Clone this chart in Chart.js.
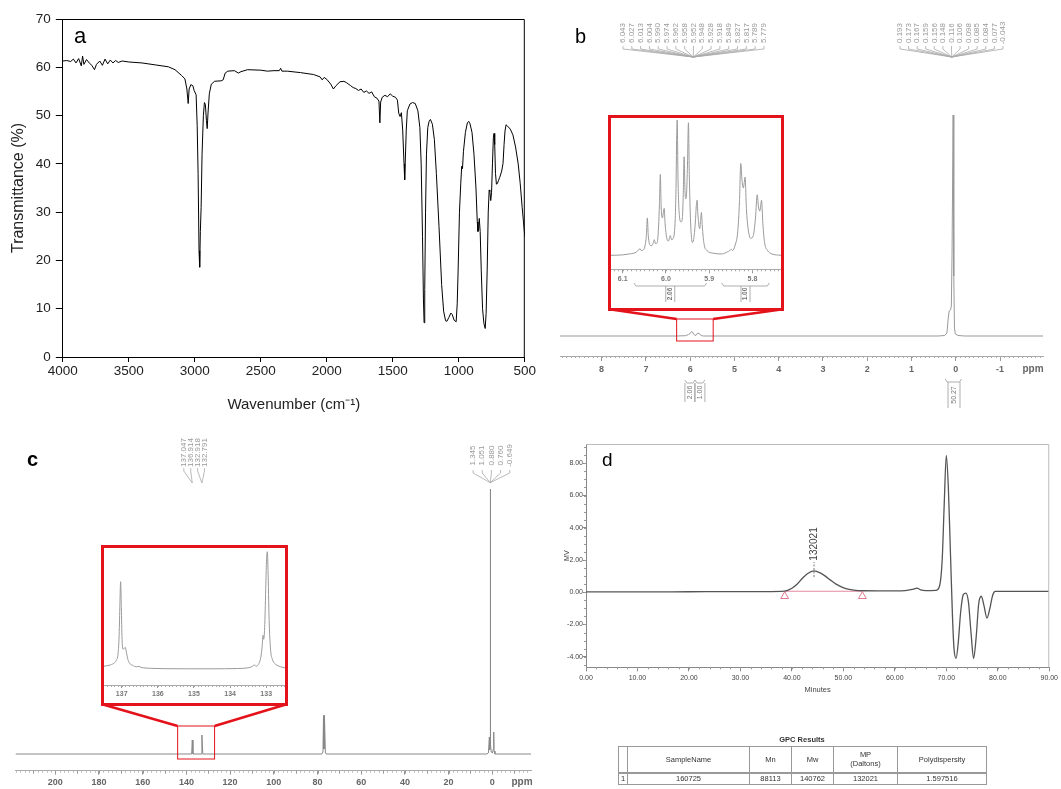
<!DOCTYPE html>
<html>
<head>
<meta charset="utf-8">
<script src="https://cdn.jsdelivr.net/npm/chart.js@4"></script>
<style>
body { margin: 0; background: #fff; width: 1061px; height: 789px; position: relative; overflow: hidden; font-family: "Liberation Sans", Arial, sans-serif; }
canvas { position: absolute; }
.lbl { position: absolute; line-height: 1; color: #000; }
.mid { position: absolute; line-height: 1; transform: translate(-50%, -50%); white-space: nowrap; }
.inset { position: absolute; border: 3px solid #e3121b; background: #fff; box-sizing: border-box; }
table.gpc { position: absolute; border-collapse: collapse; font-size: 7.5px; color: #333; table-layout: fixed; }
table.gpc td { border: 1px solid #999; text-align: center; padding: 0; }
</style>
</head>
<body>
<canvas id="irChart" width="540" height="420" style="left:0;top:0"></canvas>
<canvas id="hChart" width="501" height="420" style="left:560px;top:0"></canvas>
<canvas id="cChart" width="545" height="359" style="left:0;top:430px"></canvas>
<canvas id="gpcChart" width="501" height="359" style="left:560px;top:430px"></canvas>

<div class="inset" style="left:608px;top:115px;width:176px;height:196px"><canvas id="hInset" width="170" height="190" style="left:0;top:0"></canvas></div>
<div class="inset" style="left:101px;top:545px;width:187px;height:161px"><canvas id="cInset" width="181" height="155" style="left:0;top:0"></canvas></div>

<div class="lbl" style="left:74px;top:25px;font-size:22px">a</div>
<div class="lbl" style="left:575px;top:26px;font-size:20px">b</div>
<div class="lbl" style="left:27px;top:449px;font-size:20px;font-weight:bold">c</div>
<div class="lbl" style="left:602px;top:450px;font-size:19px">d</div>
<div class="mid" style="left:1033px;top:369px;font-size:10px;font-weight:bold;color:#666">ppm</div>
<div class="mid" style="left:522px;top:782px;font-size:10px;font-weight:bold;color:#666">ppm</div>

<div class="mid" style="left:802px;top:740px;font-size:7.5px;font-weight:bold;color:#333">GPC Results</div>
<table class="gpc" style="left:618px;top:746px;width:368px">
  <colgroup><col style="width:9px"><col style="width:122px"><col style="width:42px"><col style="width:42px"><col style="width:64px"><col style="width:89px"></colgroup>
  <tr style="height:26px;border-bottom:2px solid #999"><td></td><td>SampleName</td><td>Mn</td><td>Mw</td><td>MP<br>(Daltons)</td><td>Polydispersity</td></tr>
  <tr style="height:12px"><td style="text-align:left;padding-left:2px">1</td><td>160725</td><td>88113</td><td>140762</td><td>132021</td><td>1.597516</td></tr>
</table>

<script>
// FTIR spectrum (panel a)
const irWavenumber = [4000, 3970, 3940, 3920, 3900, 3880, 3860, 3850, 3840, 3820, 3800, 3780, 3760, 3745, 3720, 3700, 3680, 3660, 3640, 3620, 3600, 3580, 3550, 3500, 3400, 3300, 3200, 3150, 3100, 3075, 3060, 3050, 3043, 3030, 3015, 3005, 2990, 2982, 2975, 2968, 2963, 2958, 2952, 2945, 2935, 2927, 2920, 2912, 2906, 2900, 2890, 2875, 2850, 2800, 2785, 2770, 2750, 2700, 2670, 2650, 2600, 2500, 2450, 2400, 2360, 2350, 2340, 2300, 2200, 2100, 2050, 2035, 2020, 2000, 1970, 1950, 1930, 1900, 1870, 1850, 1820, 1800, 1780, 1760, 1740, 1720, 1700, 1680, 1660, 1640, 1620, 1605, 1598, 1592, 1580, 1560, 1540, 1520, 1500, 1480, 1465, 1455, 1445, 1435, 1425, 1415, 1410, 1405, 1398, 1390, 1370, 1350, 1330, 1310, 1295, 1285, 1275, 1268, 1263, 1258, 1252, 1245, 1235, 1225, 1215, 1200, 1185, 1170, 1150, 1130, 1115, 1100, 1090, 1075, 1060, 1050, 1035, 1020, 1012, 1005, 995, 985, 978, 972, 965, 950, 935, 925, 915, 900, 885, 870, 860, 855, 850, 845, 838, 830, 820, 810, 800, 793, 785, 777, 770, 765, 758, 752, 745, 738, 733, 728, 722, 715, 708, 700, 690, 675, 665, 657, 650, 642, 630, 610, 590, 570, 550, 535, 520, 510, 500];
const irTransmittance = [61.3, 61.4, 61.2, 61.7, 60.9, 61.8, 60.3, 62.3, 60.6, 61.6, 60.9, 60.4, 59.5, 60.6, 61.3, 60.4, 61.7, 60.7, 61.5, 60.9, 61.4, 61.0, 61.3, 61.1, 60.9, 60.5, 60.1, 59.5, 58.3, 57.6, 55.5, 52.5, 55.5, 56.4, 56.2, 55.2, 54.3, 48, 38, 22, 18.6, 26, 31, 42, 50, 52.7, 52.3, 49, 47.3, 50.5, 54.5, 56.5, 57.1, 57.2, 57.4, 58.8, 59.2, 59.3, 58.8, 59.1, 59.5, 59.4, 59.2, 59.3, 59.3, 59.8, 59.2, 59.2, 58.9, 58.5, 58.0, 57.4, 57.9, 57.5, 56.5, 55.5, 56.2, 57.0, 57.1, 56.8, 56.2, 55.8, 55.6, 55.2, 55.5, 54.8, 55.1, 54.6, 54.9, 53.9, 53.6, 53.0, 48.5, 52.8, 53.8, 54.2, 53.9, 54.5, 54.0, 53.8, 53.2, 50.5, 49.8, 50.6, 47, 40, 36.7, 41, 47, 51, 52.4, 52.7, 52.5, 51.0, 47.5, 40, 25, 12, 7.1, 14, 30, 42, 47.5, 48.8, 49.2, 48.2, 45, 38, 27, 15, 9.5, 7.5, 7.4, 8.2, 9.1, 8.8, 7.6, 7.3, 11, 18, 30, 36, 39.5, 39, 42.5, 46.5, 48.5, 48.8, 48.3, 46.5, 42, 35, 28, 26, 26.3, 28.7, 26, 18, 10, 7, 5.9, 9, 18, 30, 34.6, 34.3, 32.4, 34, 40, 45.5, 46.3, 44, 38, 35.8, 35.9, 36.5, 37.2, 38.5, 40.1, 44, 46.8, 48.1, 47.8, 47.2, 46, 43.5, 40, 36, 31, 28, 24.9];

// 1H NMR (panel b), intensity in screen-height units above the baseline
const hShift = [8.94, 6.30, 6.10, 6.04, 6.00, 5.97, 5.95, 5.92, 5.89, 5.86, 5.83, 5.80, 5.78, 5.75, 5.70, 0.40, 0.25, 0.20, 0.17, 0.15, 0.12, 0.10, 0.085, 0.06, 0.045, 0.03, 0.01, -0.05, -0.20, -1.97];
const hIntensity = [0, 0, 0.3, 1.5, 2.5, 4.5, 4, 2, 0.5, 1, 3, 2.5, 2.5, 0.5, 0, 0, 0.5, 3, 18, 25, 26, 30, 80, 221, 60, 8, 2, 0.5, 0, 0];
const hPeaksVinyl = ['6.043', '6.027', '6.013', '6.004', '5.990', '5.974', '5.962', '5.958', '5.952', '5.948', '5.928', '5.918', '5.849', '5.827', '5.817', '5.789', '5.779'];
const hPeaksMethyl = ['0.193', '0.173', '0.167', '0.159', '0.156', '0.148', '0.116', '0.106', '0.098', '0.085', '0.084', '0.077', '-0.043'];
const hIntegrals = ['2.06', '1.00', '50.27'];

// 1H NMR inset, 5.73-6.13 ppm (relative intensity, tallest = 100)
const hInsetShift = [6.127, 6.10, 6.085, 6.075, 6.068, 6.063, 6.060, 6.057, 6.052, 6.048,
    6.045, 6.043, 6.041, 6.037, 6.033, 6.029, 6.027, 6.024, 6.020, 6.017,
    6.015, 6.013, 6.011, 6.008, 6.006, 6.004, 6.002, 5.998, 5.994, 5.992,
    5.990, 5.987, 5.983, 5.979, 5.977, 5.975, 5.974, 5.972, 5.969, 5.965,
    5.962, 5.960, 5.958, 5.956, 5.954, 5.952, 5.950, 5.948, 5.946, 5.943,
    5.939, 5.936, 5.932, 5.930, 5.928, 5.926, 5.922, 5.920, 5.918, 5.916,
    5.912, 5.905, 5.89, 5.87, 5.858, 5.852, 5.849, 5.846, 5.840, 5.834,
    5.830, 5.827, 5.824, 5.821, 5.819, 5.817, 5.814, 5.810, 5.804, 5.798,
    5.793, 5.789, 5.786, 5.783, 5.781, 5.779, 5.776, 5.772, 5.765, 5.755, 5.734];
const hInsetIntensity = [0.5, 0.8, 1.5, 2, 3, 4.5, 5.5, 4, 4.5, 8,
    16, 28, 16, 8, 7.5, 10, 12, 9, 10, 22,
    38, 60, 36, 28, 32, 35, 24, 13, 11, 13,
    15, 12, 13, 24, 45, 90, 100, 55, 30, 25,
    28, 45, 73, 48, 42, 48, 70, 98, 60, 25,
    10, 12, 25, 36, 41, 30, 20, 26, 32, 22,
    9, 4, 2, 1.5, 3, 4, 5, 4, 8, 18,
    40, 68, 55, 50, 54, 58, 35, 20, 13, 15,
    28, 45, 36, 33, 37, 41, 24, 10, 4, 1.5, 0.5];

// 13C NMR (panel c)
const cShift = [218.2, 145, 137.6, 137.3, 137.0, 133.3, 132.9, 132.5, 78, 77.5, 77.25, 77.1, 77.0, 76.85, 76.75, 76.4, 76, 2.5, 1.8, 1.35, 1.2, 1.05, 0.95, 0.85, 0.76, 0.5, 0, -0.5, -0.65, -0.8, -1.2, -17.7];
const cIntensity = [0, 0, 0, 14, 0, 0, 19, 0, 0, 2, 38, 5, 39, 5, 37, 2, 0, 0, 1, 17, 4, 8, 265, 20, 10, 2, 1, 5, 22, 3, 0, 0];
const cPeaksVinyl = ['137.047', '136.914', '132.918', '132.791'];
const cPeaksMethyl = ['1.345', '1.051', '0.880', '0.760', '-0.649'];

// 13C inset, 132.5-137.5 ppm
const cInsetShift = [137.5, 137.35, 137.22, 137.15, 137.1, 137.07, 137.05, 137.03, 137.01, 136.99,
    136.96, 136.93, 136.9, 136.87, 136.83, 136.78, 136.7, 136.6, 136.52, 136.47,
    136.4, 136.2, 135.8, 135.2, 134.5, 133.8, 133.5, 133.38, 133.33, 133.28,
    133.2, 133.15, 133.11, 133.09, 133.07, 133.04, 133.01, 132.99, 132.97, 132.95,
    132.92, 132.88, 132.83, 132.77, 132.7, 132.6, 132.48];
const cInsetIntensity = [3, 4, 6, 9, 16, 35, 65, 87.6, 62, 30,
    20, 21, 22, 17, 10, 6, 4, 2.5, 3, 2,
    1.5, 1, 0.6, 0.5, 0.5, 0.8, 1.5, 3, 4.5, 3,
    6, 12, 24, 34, 30, 45, 85, 110, 117.6, 100,
    50, 20, 10, 6, 4, 2.5, 1.5];

// GPC trace (panel d)
const gpcMinutes = [0, 10, 20, 30, 36, 38, 39, 40, 41, 42, 43, 44.3, 45.5, 46.5, 47.5, 48.5, 49.5, 50.5, 52, 54, 58, 62, 63.5, 64.3, 65, 66, 68, 68.7, 69.2, 69.6, 70, 70.4, 70.8, 71.2, 71.5, 71.9, 72.3, 72.8, 73.3, 73.8, 74.3, 74.8, 75.3, 75.8, 76.3, 76.8, 77.3, 77.9, 78.4, 79, 79.5, 80, 90];
const gpcSignal = [0.02, 0.02, 0.03, 0.04, 0.04, 0.05, 0.1, 0.25, 0.5, 0.85, 1.15, 1.32, 1.2, 1.0, 0.75, 0.52, 0.35, 0.22, 0.13, 0.09, 0.08, 0.1, 0.18, 0.25, 0.15, 0.1, 0.12, 0.4, 2, 5.5, 8.5, 6.5, 2.5, -1.5, -3.5, -4.1, -3.2, -1.2, -0.15, -0.05, -0.6, -2.5, -4.1, -2.8, -0.7, -0.25, -0.8, -1.6, -1.1, -0.2, 0.05, 0.05, 0.05];
const gpcBaseMinutes = [38.6, 53.7];
const gpcBaseSignal = [0.06, 0.06];
const gpcMarkerSignal = [-0.25, -0.25];
const gpcPeakLabel = '132021';
const gpcPeakMinute = 44.3;

Chart.defaults.font.family = '"Liberation Sans", Arial, sans-serif';
Chart.defaults.animation = false;
Chart.defaults.responsive = false;
Chart.defaults.plugins.legend.display = false;
Chart.defaults.plugins.tooltip.enabled = false;
Chart.defaults.elements.point.radius = 0;
Chart.defaults.elements.line.tension = 0;

function xy(xs, ys) {
    return xs.map((x, i) => ({ x: x, y: ys[i] }));
}
function fixW(w) { return s => { s.width = w; }; }
function fixH(h) { return s => { s.height = h; }; }

function vtext(ctx, s, x, y) {
    ctx.save();
    ctx.translate(x, y);
    ctx.rotate(-Math.PI / 2);
    ctx.textAlign = 'center';
    ctx.textBaseline = 'middle';
    ctx.fillText(s, 0, 0);
    ctx.restore();
}

// top and right edges of a boxed plot
const frame = {
    id: 'frame',
    afterDraw(chart, args, opts) {
        const { ctx, chartArea: a } = chart;
        ctx.save();
        ctx.strokeStyle = opts.color || '#000';
        ctx.lineWidth = 1;
        ctx.beginPath();
        ctx.moveTo(a.left, a.top + 0.5);
        ctx.lineTo(a.right - 0.5, a.top + 0.5);
        ctx.lineTo(a.right - 0.5, a.bottom);
        ctx.stroke();
        ctx.restore();
    }
};

// small ticks between the labelled ones
const minorTicks = {
    id: 'minorTicks',
    afterDraw(chart, args, opts) {
        const ctx = chart.ctx;
        (opts.axes || []).forEach(a => {
            const s = chart.scales[a.id];
            const lo = Math.min(s.min, s.max), hi = Math.max(s.min, s.max);
            ctx.save();
            ctx.strokeStyle = a.color;
            ctx.lineWidth = 1;
            ctx.beginPath();
            for (let i = Math.ceil(lo / a.step - 1e-9); i * a.step <= hi + 1e-9; i++) {
                const p = Math.round(s.getPixelForValue(i * a.step)) + 0.5;
                if (s.isHorizontal()) {
                    ctx.moveTo(p, s.top);
                    ctx.lineTo(p, s.top + a.len);
                } else {
                    ctx.moveTo(s.right, p);
                    ctx.lineTo(s.right - a.len, p);
                }
            }
            ctx.stroke();
            ctx.restore();
        });
    }
};

// vertical peak labels with leader lines converging on one spot
function labelFan(ctx, labels, x0, step, textMid, textEnd, toX, toY) {
    labels.forEach((s, i) => {
        const cx = x0 + i * step;
        vtext(ctx, s, cx, textMid);
        ctx.beginPath();
        ctx.moveTo(cx, textEnd);
        ctx.lineTo(cx, textEnd + 3);
        ctx.lineTo(toX, toY);
        ctx.stroke();
    });
}

// integration brace with its value written vertically below
function integral(ctx, xa, xb, yTop, yBottom, label, lx, half) {
    ctx.beginPath();
    ctx.moveTo(xa, yTop);
    ctx.lineTo(xa + 2, yTop + 3);
    ctx.lineTo(xb - 2, yTop + 3);
    ctx.lineTo(xb, yTop);
    ctx.moveTo(lx - half, yTop + 3);
    ctx.lineTo(lx - half, yBottom);
    ctx.moveTo(lx + half, yTop + 3);
    ctx.lineTo(lx + half, yBottom);
    ctx.stroke();
    vtext(ctx, label, lx, (yTop + 3 + yBottom) / 2);
}

// red zoom rectangle on the spectrum and the lines up to the inset
function zoomMark(ctx, x, y, from, to, top, bottom, insetL, insetR, insetB) {
    const l = x.getPixelForValue(from), r = x.getPixelForValue(to);
    const t = y.getPixelForValue(top), b = y.getPixelForValue(bottom);
    ctx.save();
    ctx.strokeStyle = '#e3121b';
    ctx.lineWidth = 1;
    ctx.strokeRect(l, t, r - l, b - t);
    ctx.lineWidth = 2.5;
    ctx.beginPath();
    ctx.moveTo(insetL, insetB);
    ctx.lineTo(l, t);
    ctx.moveTo(insetR, insetB);
    ctx.lineTo(r, t);
    ctx.stroke();
    ctx.restore();
}

const hNotes = {
    id: 'hNotes',
    afterDraw(chart) {
        const { ctx, scales: { x, y } } = chart;
        ctx.save();
        ctx.font = '8px "Liberation Sans", Arial, sans-serif';
        ctx.fillStyle = '#999';
        ctx.strokeStyle = '#aaa';
        ctx.lineWidth = 0.8;
        labelFan(ctx, hPeaksVinyl, 63, 8.81, 33, 46, x.getPixelForValue(5.93), 57);
        labelFan(ctx, hPeaksMethyl, 340, 8.58, 33, 46, x.getPixelForValue(0.09), 57);
        ctx.font = '7px "Liberation Sans", Arial, sans-serif';
        ctx.fillStyle = '#777';
        ctx.strokeStyle = '#999';
        integral(ctx, x.getPixelForValue(6.12), x.getPixelForValue(5.89), 380, 402, hIntegrals[0], x.getPixelForValue(6.005), 5);
        integral(ctx, x.getPixelForValue(5.89), x.getPixelForValue(5.67), 380, 402, hIntegrals[1], x.getPixelForValue(5.78), 5);
        integral(ctx, x.getPixelForValue(0.24), x.getPixelForValue(-0.13), 379, 408, hIntegrals[2], x.getPixelForValue(0.04), 6);
        ctx.restore();
        zoomMark(ctx, x, y, 6.305, 5.48, 17, -5, 49.3, 222.7, 309.3);
    }
};

const hInsetNotes = {
    id: 'hInsetNotes',
    afterDraw(chart) {
        const { ctx, scales: { x } } = chart;
        ctx.save();
        ctx.font = 'bold 6.5px "Liberation Sans", Arial, sans-serif';
        ctx.fillStyle = '#777';
        ctx.strokeStyle = '#999';
        ctx.lineWidth = 0.8;
        integral(ctx, x.getPixelForValue(6.074), x.getPixelForValue(5.906), 165, 184, hIntegrals[0], x.getPixelForValue(5.99), 4.5);
        integral(ctx, x.getPixelForValue(5.871), x.getPixelForValue(5.761), 165, 184, hIntegrals[1], x.getPixelForValue(5.816), 4.5);
        ctx.restore();
    }
};

const cNotes = {
    id: 'cNotes',
    afterDraw(chart) {
        const { ctx, scales: { x, y } } = chart;
        ctx.save();
        ctx.font = '8px "Liberation Sans", Arial, sans-serif';
        ctx.fillStyle = '#999';
        ctx.strokeStyle = '#aaa';
        ctx.lineWidth = 0.8;
        labelFan(ctx, cPeaksVinyl.slice(0, 2), 183.8, 6.9, 22.5, 38, x.getPixelForValue(137.3), 53);
        labelFan(ctx, cPeaksVinyl.slice(2), 197.6, 6.9, 22.5, 38, x.getPixelForValue(132.9), 53);
        labelFan(ctx, cPeaksMethyl, 473.1, 9.15, 25.5, 40, x.getPixelForValue(0.95), 52.7);
        ctx.restore();
        zoomMark(ctx, x, y, 144, 127.1, 28, -5, 102.1, 286.6, 274.3);
    }
};

const gpcNotes = {
    id: 'gpcNotes',
    afterDraw(chart) {
        const { ctx, scales: { x, y } } = chart;
        const px = x.getPixelForValue(gpcPeakMinute);
        const top = y.getPixelForValue(1.32);
        ctx.save();
        ctx.strokeStyle = '#777';
        ctx.lineWidth = 1;
        ctx.setLineDash([2, 1.5]);
        ctx.beginPath();
        ctx.moveTo(px, top + 6);
        ctx.lineTo(px, top - 9);
        ctx.stroke();
        ctx.setLineDash([]);
        ctx.font = '10px "Liberation Sans", Arial, sans-serif';
        ctx.fillStyle = '#444';
        vtext(ctx, gpcPeakLabel, px, top - 27);
        ctx.restore();
    }
};

// panel a: FTIR
new Chart(document.getElementById('irChart'), {
    type: 'line',
    data: { datasets: [{ data: xy(irWavenumber, irTransmittance), borderColor: '#000', borderWidth: 1 }] },
    options: {
        layout: { padding: { top: 19, right: 15.2, bottom: 0, left: 0 } },
        scales: {
            x: {
                type: 'linear', reverse: true, min: 500, max: 4000,
                ticks: { stepSize: 500, callback: v => String(v), color: '#222', font: { size: 13.5 }, padding: 1, maxRotation: 0 },
                grid: { drawOnChartArea: false, tickLength: 5, color: '#000' },
                border: { color: '#000' },
                title: { display: true, text: 'Wavenumber (cm⁻¹)', color: '#222', font: { size: 15 }, padding: { top: 0, bottom: 6 } },
                afterFit: fixH(63)
            },
            y: {
                min: 0, max: 70,
                ticks: { stepSize: 10, color: '#222', font: { size: 13.5 }, padding: 5 },
                grid: { drawOnChartArea: false, tickLength: 7, color: '#000' },
                border: { color: '#000' },
                title: { display: true, text: 'Transmittance (%)', color: '#222', font: { size: 16 }, padding: { top: 9, bottom: 0 } },
                afterFit: fixW(62.8)
            }
        },
        plugins: { frame: { color: '#000' } }
    },
    plugins: [frame]
});

// panel b: 1H NMR
new Chart(document.getElementById('hChart'), {
    type: 'line',
    data: { datasets: [{ data: xy(hShift, hIntensity), borderColor: '#999', borderWidth: 1 }] },
    options: {
        layout: { padding: { top: 100, right: 18, bottom: 44, left: 0 } },
        scales: {
            x: {
                type: 'linear', reverse: true, min: -1.97, max: 8.94,
                ticks: { stepSize: 1, includeBounds: false, autoSkip: false, callback: v => String(v), color: '#666', font: { size: 9, weight: 'bold' }, padding: 3, maxRotation: 0 },
                grid: { drawOnChartArea: false, tickLength: 5, color: '#999' },
                border: { color: '#aaa' },
                afterFit: fixH(20)
            },
            y: { display: false, min: -20, max: 236 }
        },
        plugins: { minorTicks: { axes: [{ id: 'x', step: 0.1, len: 2, color: '#aaa' }] } }
    },
    plugins: [minorTicks, hNotes]
});

// panel b inset
new Chart(document.getElementById('hInset'), {
    type: 'line',
    data: { datasets: [{ data: xy(hInsetShift, hInsetIntensity), borderColor: '#9a9a9a', borderWidth: 1, cubicInterpolationMode: 'monotone' }] },
    options: {
        layout: { padding: 0 },
        scales: {
            x: {
                type: 'linear', reverse: true, min: 5.734, max: 6.127,
                ticks: { stepSize: 0.1, includeBounds: false, autoSkip: false, callback: v => v.toFixed(1), color: '#777', font: { size: 7, weight: 'bold' }, padding: 2, maxRotation: 0 },
                grid: { drawOnChartArea: false, tickLength: 4, color: '#999' },
                border: { color: '#aaa' },
                afterFit: fixH(38.7)
            },
            y: { display: false, min: -9.8, max: 101.5 }
        },
        plugins: { minorTicks: { axes: [{ id: 'x', step: 0.01, len: 2, color: '#aaa' }] } }
    },
    plugins: [minorTicks, hInsetNotes]
});

// panel c: 13C NMR
new Chart(document.getElementById('cChart'), {
    type: 'line',
    data: { datasets: [{ data: xy(cShift, cIntensity), borderColor: '#888', borderWidth: 1 }] },
    options: {
        layout: { padding: { top: 40, right: 14, bottom: 0, left: 15.5 } },
        scales: {
            x: {
                type: 'linear', reverse: true, min: -17.7, max: 218.2,
                ticks: { stepSize: 20, includeBounds: false, autoSkip: false, callback: v => String(v), color: '#666', font: { size: 9, weight: 'bold' }, padding: 2, maxRotation: 0 },
                grid: { drawOnChartArea: false, tickLength: 4, color: '#999' },
                border: { color: '#aaa' },
                afterFit: fixH(18.3)
            },
            y: { display: false, min: -16.7, max: 284 }
        },
        plugins: { minorTicks: { axes: [{ id: 'x', step: 2, len: 2, color: '#bbb' }, { id: 'x', step: 10, len: 3, color: '#999' }] } }
    },
    plugins: [minorTicks, cNotes]
});

// panel c inset
new Chart(document.getElementById('cInset'), {
    type: 'line',
    data: { datasets: [{ data: xy(cInsetShift, cInsetIntensity), borderColor: '#9a9a9a', borderWidth: 1, cubicInterpolationMode: 'monotone' }] },
    options: {
        layout: { padding: 0 },
        scales: {
            x: {
                type: 'linear', reverse: true, min: 132.48, max: 137.49,
                ticks: { stepSize: 1, includeBounds: false, autoSkip: false, callback: v => String(v), color: '#777', font: { size: 7, weight: 'bold' }, padding: 2, maxRotation: 0 },
                grid: { drawOnChartArea: false, tickLength: 3, color: '#999' },
                border: { color: '#aaa' },
                afterFit: fixH(18)
            },
            y: { display: false, min: -15.7, max: 121.3 }
        },
        plugins: { minorTicks: { axes: [{ id: 'x', step: 0.1, len: 2, color: '#aaa' }] } }
    },
    plugins: [minorTicks]
});

// panel d: GPC
new Chart(document.getElementById('gpcChart'), {
    type: 'line',
    data: {
        datasets: [
            { data: xy(gpcMinutes, gpcSignal), borderColor: '#555', borderWidth: 1.3, cubicInterpolationMode: 'monotone' },
            { data: xy(gpcBaseMinutes, gpcBaseSignal), borderColor: '#e58ba3', borderWidth: 1 },
            { data: xy(gpcBaseMinutes, gpcMarkerSignal), showLine: false, pointStyle: 'triangle', pointRadius: 4.5,
              pointBorderColor: '#e07890', pointBackgroundColor: 'rgba(255,255,255,0)', pointBorderWidth: 1 }
        ]
    },
    options: {
        layout: { padding: { top: 14, right: 9.3, bottom: 91.7, left: 0 } },
        scales: {
            x: {
                type: 'linear', min: 0, max: 90,
                ticks: { stepSize: 10, callback: v => v.toFixed(2), color: '#444', font: { size: 7 }, padding: 3, maxRotation: 0 },
                grid: { drawOnChartArea: false, tickLength: 4, color: '#888' },
                border: { color: '#888' },
                title: { display: true, text: 'Minutes', color: '#444', font: { size: 7.5 }, padding: { top: 0, bottom: 3 } },
                afterFit: fixH(30)
            },
            y: {
                min: -4.66, max: 9.2,
                ticks: { stepSize: 2, includeBounds: false, callback: v => v.toFixed(2), color: '#444', font: { size: 7 }, padding: 0 },
                grid: { drawOnChartArea: false, tickLength: 3, color: '#888' },
                border: { color: '#888' },
                title: { display: true, text: 'MV', color: '#444', font: { size: 7 }, padding: { top: 3, bottom: 0 } },
                afterFit: fixW(26)
            }
        },
        plugins: {
            frame: { color: '#bbb' },
            minorTicks: { axes: [{ id: 'x', step: 2, len: 2, color: '#999' }, { id: 'y', step: 0.5, len: 2, color: '#999' }] }
        }
    },
    plugins: [frame, minorTicks, gpcNotes]
});
</script>
</body>
</html>
